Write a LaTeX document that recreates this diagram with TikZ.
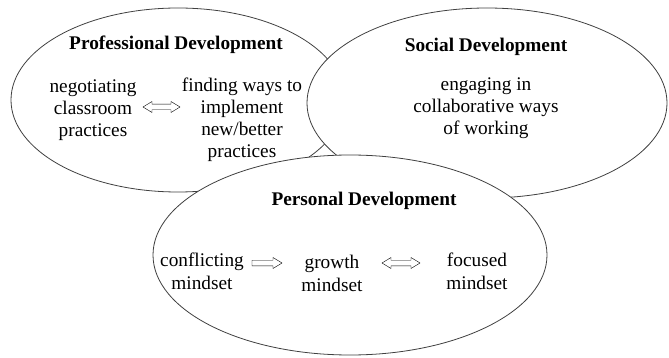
\documentclass[tikz,border=0pt]{standalone}
\usepackage{fontspec}
\setmainfont{Liberation Serif}
\usetikzlibrary{shapes.geometric,calc}
\begin{document}
\begin{tikzpicture}[x=1pt,y=-1pt,
  blob/.style={ellipse, draw=black!75, line width=0.8pt, fill=white, inner sep=0pt},
  ttl/.style={font=\fontsize{19.3}{22.3}\selectfont\bfseries, inner sep=0pt, anchor=base},
  txt/.style={font=\fontsize{19.3}{22.3}\selectfont, align=center, inner sep=0pt, anchor=base},
  arr/.style={draw=black!70, line width=0.6pt, line join=miter},
  rarrow/.style={arr, to path={($(\tikztostart)+(0,-2.8)$) -- ($(\tikztotarget)+(-9,-2.8)$) -- ($(\tikztotarget)+(-9,-5.5)$) -- (\tikztotarget) -- ($(\tikztotarget)+(-9,5.5)$) -- ($(\tikztotarget)+(-9,2.8)$) -- ($(\tikztostart)+(0,2.8)$) -- cycle}},
  darrow/.style={arr, to path={($(\tikztostart)$) -- ($(\tikztostart)+(9,-5.5)$) -- ($(\tikztostart)+(9,-2.8)$) -- ($(\tikztotarget)+(-9,-2.8)$) -- ($(\tikztotarget)+(-9,-5.5)$) -- (\tikztotarget) -- ($(\tikztotarget)+(-9,5.5)$) -- ($(\tikztotarget)+(-9,2.8)$) -- ($(\tikztostart)+(9,2.8)$) -- ($(\tikztostart)+(9,5.5)$) -- cycle}}
]
\useasboundingbox (0,0) rectangle (669,358);

% ellipses
\node[blob, minimum width=334pt, minimum height=184pt] (prof) at (178,100) {};
\node[blob, minimum width=360pt, minimum height=190pt] (soc) at (487,103) {};
\node[blob, minimum width=394pt, minimum height=200pt] (pers) at (350,255) {};

% titles
\node[ttl] (proft) at (176,50) {Professional Development};
\node[ttl] (soct) at (486,52) {Social Development};
\node[ttl] (perst) at (364,205) {Personal Development};

% professional texts (base anchor = last line baseline)
\node[txt] (neg) at (93,137) {negotiating\\classroom\\practices};
\node[txt] (find) at (242,158) {finding ways to\\implement\\new/better\\practices};

% social text
\node[txt] (eng) at (486,135) {engaging in\\collaborative ways\\of working};

% personal texts
\node[txt] (conf) at (202,289) {conflicting\\mindset};
\node[txt] (grow) at (332,291) {growth\\mindset};
\node[txt] (foc) at (477,289) {focused\\mindset};

% arrows
\coordinate (p1) at (143,107);
\coordinate (p2) at (180,107);
\coordinate (q1) at (252,263);
\coordinate (q2) at (282,263);
\coordinate (r1) at (382,263);
\coordinate (r2) at (420,263);
\draw (p1) to[darrow] (p2);
\draw (q1) to[rarrow] (q2);
\draw (r1) to[darrow] (r2);
\end{tikzpicture}
\end{document}
